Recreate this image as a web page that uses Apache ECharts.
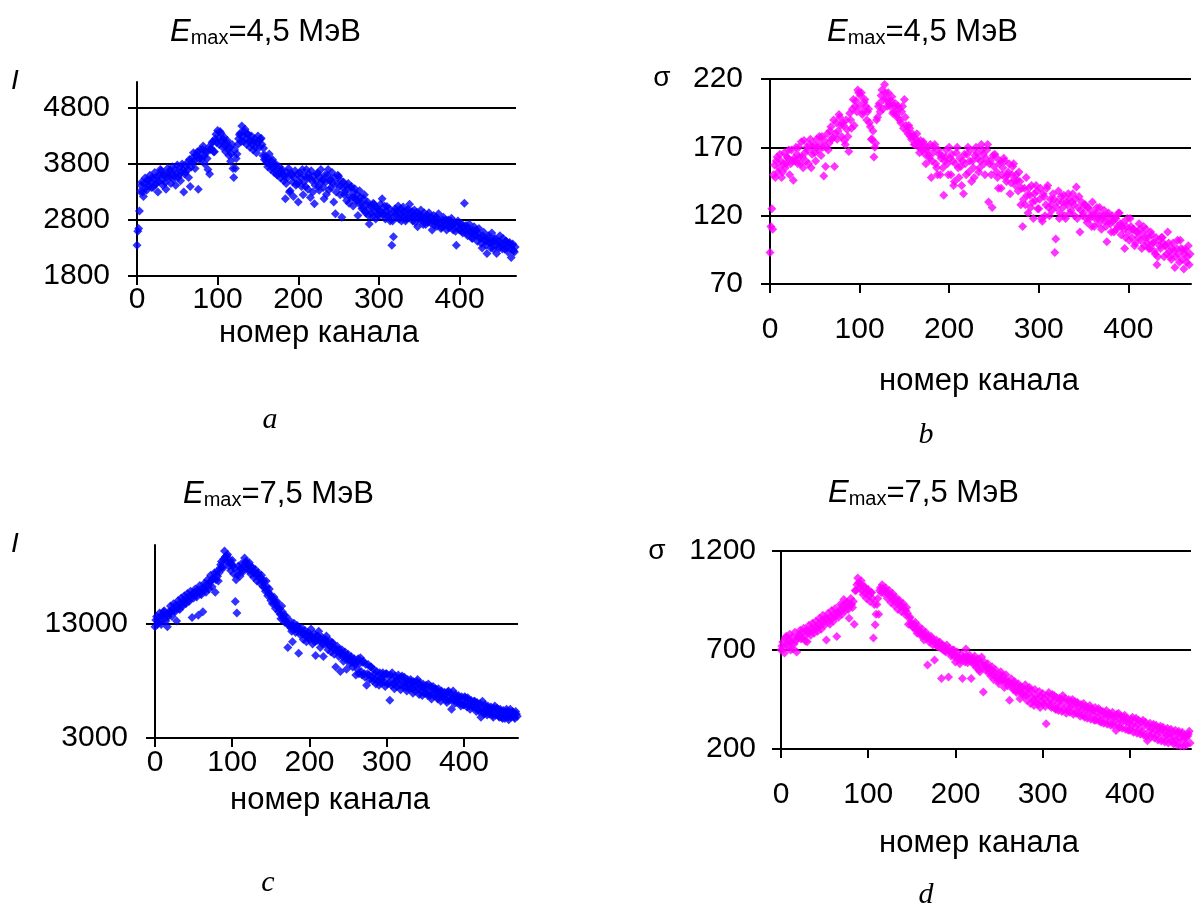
<!DOCTYPE html>
<html><head><meta charset="utf-8">
<script src="https://cdn.jsdelivr.net/npm/echarts@6/dist/echarts.min.js"></script>
<style>html,body{margin:0;padding:0;background:#fff}#c{width:1197px;height:911px}</style>
</head><body><div id="c"></div>
<script>
// one value per channel (value i belongs to channel i*STEP)
const STEP = 1;
const X_MAX = 470;
const ticksX = [0, 100, 200, 300, 400];
const ticksA = [1800, 2800, 3800, 4800];
const ticksB = [70, 120, 170, 220];
const ticksC = [3000, 13000];
const ticksD = [200, 700, 1200];
const titleA = '4,5 МэВ';
const titleC = '7,5 МэВ';
const xName = 'номер канала';

// panel a: intensity I, Emax = 4.5 MeV (channels 0..469)
const intensity45 = [
2350,2600,2650,2960,3310,3420,3480,3300,3220,3450,3550,3380,3330,3520,3500,3410,3600,3470,3380,3560,
3380,3540,3650,3440,3450,3580,3300,3490,3600,3700,3680,3510,3420,3600,3620,3470,3350,3560,3720,3640,
3560,3690,3450,3620,3750,3530,3580,3700,3420,3640,3780,3560,3600,3740,3500,3660,3800,3700,3300,3620,
3650,3760,3820,3700,3560,3880,3400,3740,3900,3820,4000,3860,3720,3960,3950,4020,3350,3880,4050,3930,
3880,4060,4120,3940,3800,4020,4000,3900,3700,4100,3620,4060,4080,4180,4200,4020,4020,4250,4330,4180,
4400,4260,4150,4380,4350,4200,4100,4240,4280,4120,4020,4180,4220,4060,3950,4100,3850,3980,4150,3720,
3560,4050,3720,3900,3980,4150,4250,4320,4350,4200,4480,4300,4200,4380,4420,4250,4150,4330,4330,4200,
4100,4220,4300,4150,4050,4200,4250,4100,4000,4180,4300,4200,4100,4240,4260,4150,3950,4080,3880,3950,
3870,3820,3750,3900,3980,3780,3700,3850,3880,3720,3650,3780,3800,3620,3600,3720,3750,3640,3550,3680,
3700,3620,3500,3580,3180,3450,3650,3560,3720,3300,3320,3640,3600,3480,3220,3560,3680,3420,3450,3620,
3120,3480,3640,3560,3400,3700,3250,3480,3580,3400,3700,3560,3350,3620,3550,3200,3680,3500,3300,3580,
3090,3420,3500,3620,3640,3400,3330,3560,3700,3480,3520,3380,3180,3600,3480,3260,3600,3700,3340,3500,
3520,3380,3650,3450,3120,3560,2910,3300,3450,3600,3580,3400,3250,3500,2850,3380,3480,3250,3300,3420,
3150,3350,3450,3100,3220,3380,3400,3200,3050,3300,3360,3180,3150,3250,2880,3100,3320,3200,3100,3000,
3020,3180,3250,2950,2920,3080,3120,2880,2730,3000,3050,2920,2860,3100,3080,2950,2820,3020,3000,2900,
2870,2980,3080,2940,3180,2900,2920,3050,2820,2960,3040,2860,2880,3000,2780,2900,2350,2780,2500,2950,
3000,2900,2850,2960,3050,2820,2920,3000,2780,2880,3030,2950,2870,2780,2820,2960,2990,2850,3080,2900,
2850,2950,2780,2880,2980,2760,2870,2940,2680,2850,2900,2800,2980,2880,2790,2720,2930,2850,2720,2820,
2880,2760,2930,2800,2750,2860,2620,2780,2880,2700,2770,2850,2690,2800,2910,2740,2750,2650,2670,2800,
2850,2700,2720,2800,2620,2760,2800,2660,2680,2780,2830,2700,2620,2740,2750,2600,2350,2700,2780,2640,
2620,2720,2740,2600,2570,2680,3100,2640,2700,2560,2520,2650,2730,2600,2580,2480,2470,2620,2680,2540,
2530,2620,2420,2560,2650,2480,2480,2380,2300,2520,2580,2450,2420,2350,2200,2480,2520,2400,2380,2300,
2570,2420,2280,2450,2470,2350,2200,2380,2420,2300,2520,2400,2330,2280,2470,2360,2280,2420,2420,2300,
2230,2380,2400,2300,2130,2350,2370,2250,2230,2320];

// panel b: sigma, Emax = 4.5 MeV (channels 0..469)
const sigma45 = [
93,112,125,110,150,157,148,160,163,152,155,165,160,148,152,158,166,155,158,163,
162,168,150,158,168,160,146,162,160,170,165,158,170,163,158,174,163,155,175,166,
160,170,168,158,172,176,155,165,170,172,166,160,176,170,168,178,172,164,178,170,
149,175,156,170,180,168,173,182,185,176,177,190,156,180,188,176,182,194,192,186,
178,188,186,175,172,190,183,178,167,195,190,184,198,205,186,200,204,196,212,210,
200,208,210,194,196,203,205,200,190,196,198,188,185,176,176,182,163,170,173,190,
192,200,202,196,208,212,198,205,216,210,205,200,210,202,200,204,207,195,196,200,
202,194,192,200,198,190,188,196,200,184,205,192,186,182,180,186,184,178,176,180,
178,172,172,176,180,174,170,166,175,170,168,174,172,165,158,168,170,164,162,172,
148,160,166,170,172,158,155,150,168,165,150,162,164,155,135,160,163,168,158,150,
170,162,150,165,160,142,145,158,166,170,155,148,162,156,142,160,136,165,158,150,
165,170,152,160,168,145,160,155,148,164,170,166,162,152,155,160,172,168,165,158,
150,162,168,172,130,158,160,150,126,164,156,165,163,152,148,140,158,160,140,150,
155,162,160,148,145,150,152,158,136,144,150,156,158,146,142,150,146,138,152,145,
128,140,112,132,140,128,148,135,122,140,135,126,142,130,118,136,131,142,138,125,
125,132,140,118,116,136,134,120,128,140,142,126,120,132,128,124,136,132,93,103,
126,130,138,118,122,134,130,126,135,120,118,130,128,136,132,122,124,130,136,128,
120,132,141,118,126,134,108,124,130,120,122,128,128,118,115,126,125,118,120,112,
130,122,112,118,122,126,118,114,126,120,110,118,120,124,116,112,101,120,122,116,
114,108,120,116,108,118,118,110,112,122,122,114,106,112,115,110,96,104,112,118,
108,102,118,112,104,110,110,98,100,108,108,104,114,110,102,96,107,112,98,104,
110,100,104,96,96,108,106,100,100,94,92,104,84,90,102,98,96,104,104,100,
90,98,98,92,108,100,94,90,88,96,100,94,82,90,96,102,92,86,102,96,
88,95,81,92,95,86,90,98,84,92];

// panel c: intensity I, Emax = 7.5 MeV (channels 0..469)
const intensity75 = [
12700,13300,13600,12900,13100,13500,13900,13200,12900,13700,13700,14000,14100,13400,13200,13800,12700,13600,14000,13900,
14500,14000,13600,14300,14700,14100,14000,14600,13200,14400,15000,14300,14200,14800,15200,14600,14500,15000,15400,14800,
14700,15200,15600,15000,14900,15400,15800,15200,13500,15600,15200,15700,16000,15500,15300,15900,13700,15800,16300,15600,
15500,16100,14000,16000,16500,15900,15700,16400,16800,16300,16000,16600,17200,16700,16200,16900,17000,17400,15700,16800,
17500,17100,16700,17400,17800,18100,18400,17900,17800,18600,19300,18800,18400,18900,19000,18300,18000,18500,17600,18200,
18500,18000,17300,17800,14900,16800,13900,17200,18000,17600,17100,17800,18200,17600,17500,18000,18700,18300,18400,17900,
17700,18100,18300,17600,17300,17900,17900,17400,17000,17500,17700,17200,16700,17300,17400,16900,16500,17000,17200,16600,
16200,16700,16100,15800,16700,16200,15400,15700,16000,15500,15000,15300,14700,15100,15300,14700,14300,14800,14900,14400,
14000,14300,13800,13400,14500,14000,13400,13700,13100,13300,13600,13000,10900,12800,12900,13200,12600,12300,11400,12800,
13000,12500,12200,12700,12800,12300,10400,12500,12000,12300,12600,12100,11600,12200,12400,11900,11400,12000,12200,11700,
11600,12000,12500,11800,11200,11700,12100,11400,10200,11900,11500,11900,12300,11500,10900,11600,11800,11200,10100,11500,
11200,11600,11900,11300,10700,11100,11500,11000,10500,11300,11300,10800,10300,10900,9200,10600,11000,10500,10100,10700,
8800,10400,10700,10100,9700,10300,10500,9900,9000,10100,10300,9800,9500,10000,10100,9600,9200,9700,9900,9400,
8500,9600,9000,9900,8600,9500,10000,8800,8500,9600,9700,8600,8300,9400,7600,8600,9400,8500,8100,9200,
9200,8300,8000,9000,8600,8100,7700,8800,8400,8000,7600,8700,8200,7800,8100,8700,8500,7900,7500,8600,
8600,7700,8400,7800,6300,8500,7600,8700,8100,7700,7300,8400,8000,7500,7900,8500,8200,7600,7200,8300,
8400,7500,7800,8300,7900,7400,7100,8100,7800,7300,7600,8100,7900,7300,6900,7900,7600,7100,7500,7900,
8100,7200,6800,7800,7500,7100,6700,7700,7400,6900,7300,7600,6900,6700,7700,7000,6700,7500,6400,7300,
7500,6700,6900,7300,7200,6600,6400,7300,7000,6600,6200,7100,6900,6500,6700,7000,6800,6300,6100,7000,
7100,6300,6600,6900,5500,6400,7100,6300,6000,6800,6600,6100,6300,6700,6500,6000,5800,6600,6400,5900,
5900,6600,6500,6000,5700,6500,6300,5800,5500,6300,6100,5700,5800,6200,6200,5600,5300,6100,5900,5500,
5300,6000,4800,5500,6200,5300,5100,5900,5700,5200,5000,5800,5600,5100,5300,5700,5500,5000,4800,5600,
5800,5000,5200,5600,5500,4900,4800,5500,5300,4800,4700,5400,5200,4700,5000,5500,5300,4800,4600,5200,
5500,4800,5000,5300,5200,4800,4700,5300,5100,4900];

// panel d: sigma, Emax = 7.5 MeV (channels 0..469)
const sigma75 = [
700,720,740,705,685,760,770,730,720,745,780,700,740,765,705,730,790,745,690,760,
765,780,800,755,760,790,810,770,745,800,742,790,825,790,775,810,835,800,785,815,
845,810,795,830,860,820,805,850,875,840,825,860,750,855,885,845,830,870,900,860,
845,880,910,870,768,890,865,900,930,895,880,925,955,915,900,940,940,905,860,925,
960,930,915,945,830,1000,1000,1030,1064,1040,1010,1035,1050,1000,980,1020,1020,985,960,1000,
1005,975,945,990,990,960,760,930,827,880,930,960,880,1000,1015,990,1030,1010,985,1000,
1015,990,960,985,1000,970,940,975,985,950,925,955,965,935,905,945,950,920,895,925,
935,910,880,900,915,885,830,860,865,830,835,815,815,830,840,800,785,805,820,790,
775,790,805,770,750,780,790,760,624,770,740,760,770,745,725,750,650,735,750,720,
715,735,740,710,556,725,700,720,695,690,725,700,564,710,690,670,680,700,700,665,
640,675,690,660,655,630,650,680,556,665,660,640,705,670,635,660,675,645,556,650,
630,655,670,625,610,640,655,600,590,635,665,620,488,640,620,595,605,630,610,585,
570,600,615,575,550,585,600,560,560,545,530,575,590,550,545,570,510,545,575,540,
520,540,446,530,555,515,500,535,540,495,485,520,530,490,454,515,510,480,470,500,
525,470,445,505,480,510,430,495,460,445,420,500,470,435,455,425,490,410,465,440,
480,430,455,415,327,470,435,485,420,450,410,475,440,470,405,400,460,430,395,455,
420,450,390,470,400,440,455,380,415,395,450,385,435,420,450,375,405,440,380,430,
435,380,410,365,425,400,370,430,360,415,395,355,410,385,420,350,405,375,395,345,
410,345,385,360,405,340,395,335,370,390,330,380,355,395,325,365,380,335,320,370,
385,320,360,345,293,375,325,380,310,350,365,305,340,360,370,300,335,355,295,330,
295,350,320,360,285,340,310,355,280,325,345,300,275,335,290,345,270,320,335,265,
242,315,290,330,260,305,280,325,255,300,320,270,245,305,285,315,240,295,310,260,
235,290,270,305,230,280,255,300,240,285,225,265,295,245,220,280,290,250,215,275,
285,245,215,270,255,220,265,275,290,230];

const FONT = '"Liberation Sans", Arial, sans-serif';
const SERIF = '"Liberation Serif", "Times New Roman", serif';
const BLACK = '#000';
const BLUE = '#0000ff';
const MAGENTA = '#ff00ff';

const panels = [
  {grid: {left: 137, top: 82, width: 379, height: 194}, yMin: 1800, yMax: 5264, yTicks: ticksA, yMargin: 27, xMargin: 9, values: intensity45, color: BLUE},
  {grid: {left: 770, top: 79, width: 421, height: 205}, yMin: 70, yMax: 220, yTicks: ticksB, yMargin: 27, xMargin: 31, values: sigma45, color: MAGENTA},
  {grid: {left: 155, top: 545, width: 363, height: 193}, yMin: 3000, yMax: 19830, yTicks: ticksC, yMargin: 27, xMargin: 10, values: intensity75, color: BLUE},
  {grid: {left: 781, top: 551, width: 410, height: 198}, yMin: 200, yMax: 1200, yTicks: ticksD, yMargin: 25, xMargin: 31, values: sigma75, color: MAGENTA}
];

const lineStyle = {color: BLACK, width: 2};
const labelStyle = {fontSize: 30, color: BLACK, fontFamily: FONT, formatter: v => String(v)};

const option = {
  animation: false,
  backgroundColor: '#fff',
  grid: panels.map(p => Object.assign({outerBoundsMode: 'none', containLabel: false}, p.grid)),
  xAxis: panels.map((p, i) => ({
    gridIndex: i, type: 'value', min: 0, max: X_MAX,
    axisLine: {show: true, onZero: false, lineStyle},
    axisTick: {show: true, length: 9, lineStyle, customValues: ticksX},
    axisLabel: Object.assign({customValues: ticksX, margin: p.xMargin}, labelStyle),
    splitLine: {show: false}
  })),
  yAxis: panels.map((p, i) => ({
    gridIndex: i, type: 'value', min: p.yMin, max: p.yMax,
    axisLine: {show: true, onZero: false, lineStyle},
    axisTick: {show: true, length: 9, lineStyle, customValues: p.yTicks},
    axisLabel: Object.assign({customValues: p.yTicks, margin: p.yMargin}, labelStyle),
    splitLine: {show: true, showMinLine: false, lineStyle}
  })),
  series: panels.map((p, i) => ({
    type: 'scatter', xAxisIndex: i, yAxisIndex: i,
    symbol: 'diamond', symbolSize: 9,
    itemStyle: {color: p.color},
    data: p.values.map((v, k) => [k * STEP, v])
  })),
  graphic: {elements: []}
};

function titleText(x, y, rest) {
  return {type: 'text', x, y, silent: true, style: {
    text: '{e|E}{s|max}{n|=' + rest + '}',
    align: 'left', verticalAlign: 'middle',
    rich: {
      e: {fontSize: 31, fontStyle: 'italic', fontFamily: FONT, fill: BLACK, lineHeight: 34, verticalAlign: 'bottom'},
      s: {fontSize: 20, fontFamily: FONT, fill: BLACK, lineHeight: 18, verticalAlign: 'bottom'},
      n: {fontSize: 31, fontFamily: FONT, fill: BLACK, lineHeight: 34, verticalAlign: 'bottom'}
    }
  }};
}
function plainText(x, y, text, size, family, italic) {
  return {type: 'text', x, y, silent: true, style: {
    text, fontSize: size, fontFamily: family, fontStyle: italic ? 'italic' : 'normal',
    fill: BLACK, align: 'center', verticalAlign: 'middle'
  }};
}

option.graphic.elements.push(
  titleText(170, 31, titleA), titleText(827, 31, titleA),
  titleText(183, 493, titleC), titleText(828, 492, titleC),
  plainText(15, 81, 'I', 28, FONT, true), plainText(15, 544, 'I', 28, FONT, true),
  plainText(662, 78, 'σ', 28, FONT, false), plainText(657, 551, 'σ', 28, FONT, false),
  plainText(319, 333, xName, 31, FONT, false), plainText(979, 381, xName, 31, FONT, false),
  plainText(330, 800, xName, 31, FONT, false), plainText(979, 843, xName, 31, FONT, false),
  plainText(270, 420, 'a', 30, SERIF, true), plainText(926, 435, 'b', 30, SERIF, true),
  plainText(268, 883, 'c', 30, SERIF, true), plainText(926, 895, 'd', 30, SERIF, true)
);

const chart = echarts.init(document.getElementById('c'), null, {renderer: 'canvas'});
chart.setOption(option);
</script></body></html>
